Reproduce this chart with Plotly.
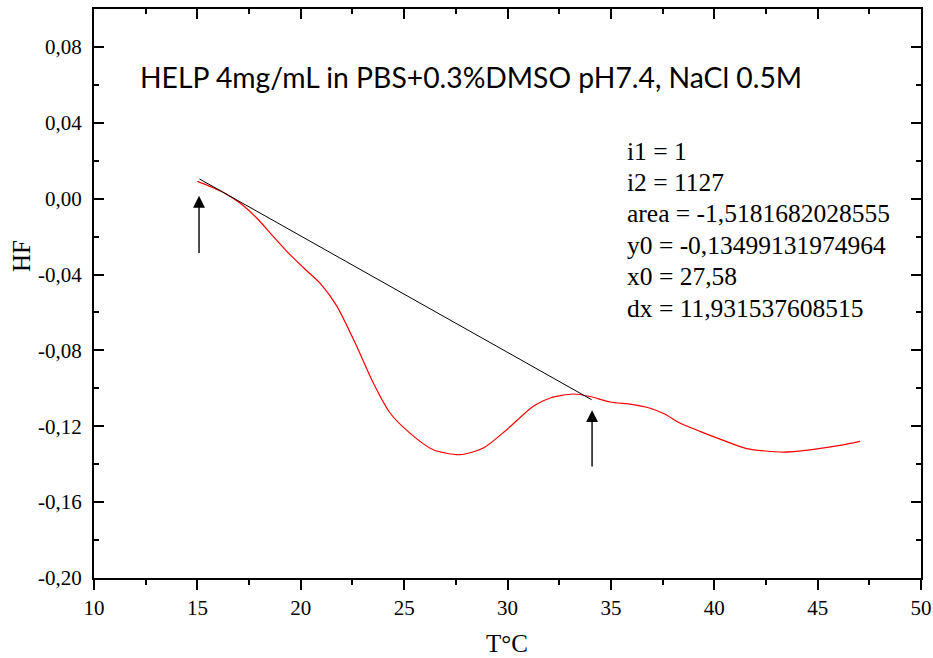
import plotly.graph_objects as go

# DSC heat-flow trace (T in °C, HF)
temp = [15.0, 15.61, 16.26, 17.06, 17.87, 18.67, 19.48, 20.29, 20.93, 21.74, 22.71,
        23.51, 24.32, 25.28, 26.41, 27.70, 28.83, 29.96, 31.25, 32.06, 33.18, 33.99,
        34.96, 36.0, 36.9, 37.6, 38.34, 39.31, 40.28, 41.57, 43.34, 44.63, 46.08, 47.05]
hf = [0.0091, 0.0065, 0.0033, -0.0023, -0.0102, -0.0199, -0.0295, -0.0380, -0.0445,
      -0.0565, -0.0779, -0.0972, -0.1130, -0.1236, -0.1324, -0.1350, -0.1315, -0.1218,
      -0.1095, -0.1051, -0.1030, -0.1043, -0.1072, -0.1085, -0.1105, -0.1135, -0.1183,
      -0.1227, -0.1268, -0.1318, -0.1336, -0.1324, -0.1301, -0.1280]

# integration baseline end points
base_t = [15.1, 34.07]
base_hf = [0.0104, -0.106]

# integration limit markers: (x, tail y, head y)
arrows = [(15.08, -0.0295, 0.0015), (34.09, -0.142, -0.1115)]

title_text = "HELP 4mg/mL in PBS+0.3%DMSO pH7.4, NaCl 0.5M"
stats_lines = ["i1 = 1", "i2 = 1127", "area = -1,5181682028555",
               "y0 = -0,13499131974964", "x0 = 27,58", "dx = 11,931537608515"]

x_ticks = [10, 15, 20, 25, 30, 35, 40, 45, 50]
y_ticks = [-0.20, -0.16, -0.12, -0.08, -0.04, 0.00, 0.04, 0.08]
y_ticklabels = ["-0,20", "-0,16", "-0,12", "-0,08", "-0,04", "0,00", "0,04", "0,08"]

SERIF = "Liberation Serif, Times New Roman, serif"

fig = go.Figure()
fig.add_trace(go.Scatter(x=temp, y=hf, mode="lines",
                         line=dict(color="#ff0000", width=1.2, shape="spline", smoothing=0.7),
                         hoverinfo="skip"))
fig.add_trace(go.Scatter(x=base_t, y=base_hf, mode="lines", line=dict(color="black", width=1),
                         hoverinfo="skip"))
# top axis carries inward ticks
fig.add_trace(go.Scatter(x=[None], y=[None], xaxis="x2", showlegend=False))

L, R, T, B = 94, 921, 9, 578


def px_to_paper(px, py):
    return (px - L) / (R - L), (B - py) / (B - T)


annotations = []
for ax_, tail, head in arrows:
    annotations.append(dict(x=ax_, y=head, ax=ax_, ay=tail, xref="x", yref="y",
                            axref="x", ayref="y", text="", showarrow=True,
                            arrowhead=2, arrowsize=1.7, arrowwidth=1.4, arrowcolor="black"))

tx, ty = px_to_paper(138, 77)
annotations.append(dict(x=tx, y=ty, xref="paper", yref="paper", text=title_text,
                        showarrow=False, xanchor="left", yanchor="middle",
                        font=dict(family="Lato", size=28.3, color="black")))

for i, t in enumerate(stats_lines):
    sx, sy = px_to_paper(625, 151 + i * 31.4)
    annotations.append(dict(x=sx, y=sy, xref="paper", yref="paper", text=t,
                            showarrow=False, xanchor="left", yanchor="middle",
                            font=dict(family=SERIF, size=25.5, color="black")))

xx, xy = px_to_paper(507, 643)
annotations.append(dict(x=xx, y=xy, xref="paper", yref="paper", text="T°C",
                        showarrow=False, xanchor="center", yanchor="middle",
                        font=dict(family=SERIF, size=25, color="black")))
hx, hy = px_to_paper(21, 256)
annotations.append(dict(x=hx, y=hy, xref="paper", yref="paper", text="HF", textangle=-90,
                        showarrow=False, xanchor="center", yanchor="middle",
                        font=dict(family=SERIF, size=25, color="black")))

fig.update_layout(
    width=933, height=658,
    margin=dict(l=L, r=933 - R, t=T, b=658 - B, autoexpand=False),
    paper_bgcolor="white", plot_bgcolor="white",
    showlegend=False,
    font=dict(family=SERIF, size=21, color="black"),
    xaxis=dict(range=[10, 50], tickvals=x_ticks, ticks="outside", ticklen=10, tickwidth=2,
               tickcolor="black", showline=True, linecolor="black", linewidth=2,
               mirror=True, showgrid=False, zeroline=False, automargin=False,
               tickfont=dict(family=SERIF, size=21, color="black"),
               minor=dict(dtick=2.5, ticks="outside", ticklen=5, tickwidth=2,
                          tickcolor="black", tick0=10)),
    xaxis2=dict(range=[10, 50], overlaying="x", side="top", tickvals=x_ticks,
                showticklabels=False, ticks="inside", ticklen=10, tickwidth=2,
                tickcolor="black", showline=False, showgrid=False, zeroline=False,
                automargin=False,
                minor=dict(dtick=2.5, ticks="inside", ticklen=5, tickwidth=2,
                           tickcolor="black", tick0=10)),
    yaxis=dict(range=[-0.20, 0.10], tickvals=y_ticks, ticktext=y_ticklabels,
               ticks="inside", ticklen=10, tickwidth=2, tickcolor="black",
               showline=True, linecolor="black", linewidth=2, mirror="ticks",
               showgrid=False, zeroline=False, ticklabelstandoff=6, automargin=False,
               tickfont=dict(family=SERIF, size=21, color="black"),
               minor=dict(dtick=0.02, tick0=0, ticks="inside", ticklen=5, tickwidth=2,
                          tickcolor="black")),
    annotations=annotations,
)

fig.write_html("out.html")
